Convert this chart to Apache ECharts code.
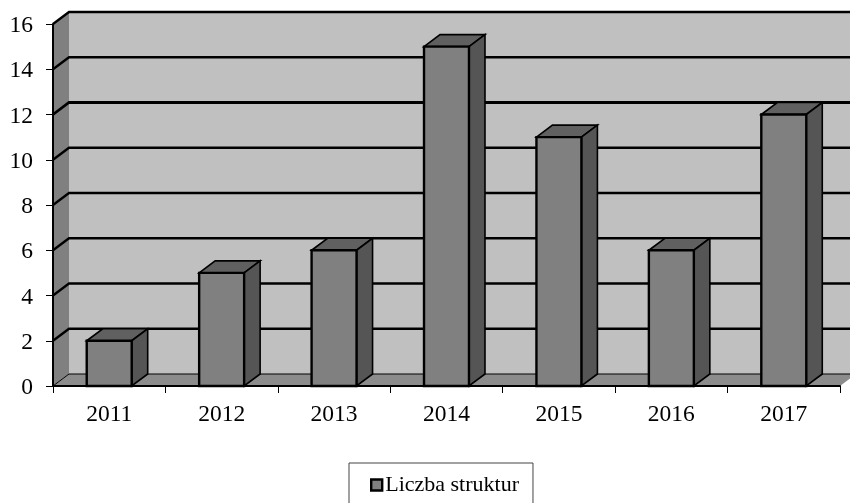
<!DOCTYPE html>
<html>
<head>
<meta charset="utf-8">
<style>html,body{margin:0;padding:0;background:#fff}#c{width:850px;height:503px}</style>
<script src="https://cdn.jsdelivr.net/npm/echarts@6/dist/echarts.min.js"></script>
</head>
<body>
<div id="c"></div>
<script>
const categories = ['2011','2012','2013','2014','2015','2016','2017'];
const structureCounts = [2,5,6,15,11,6,12];
const wallLevels = [0,2,4,6,8,10,12,14,16];
const seriesName = 'Liczba struktur';
const DX = 16, DY = -12;
const FONT = '"Liberation Serif","Times New Roman",serif';

const chart = echarts.init(document.getElementById('c'), null, {renderer:'canvas'});

function poly(points, fill, stroke, lw){
  return {type:'polygon', shape:{points},
    style:{fill, stroke: stroke||null, lineWidth: lw||0, lineJoin:'miter'}};
}
function pl(points, lw){
  return {type:'polyline', shape:{points},
    style:{fill:null, stroke:'#000', lineWidth:lw, lineJoin:'miter'}};
}
function renderWalls(params, api){
  const n = categories.length;
  const bl = api.coord([0,0]), tl = api.coord([0,16]);
  const left = bl[0] - api.size([1,0])[0]/2;
  const right = left + api.size([1,0])[0]*n;
  const y0 = bl[1], yT = tl[1];
  const children = [
    poly([[left+DX,y0+DY],[right+DX,y0+DY],[right+DX,yT+DY],[left+DX,yT+DY]],'#c0c0c0'),
    poly([[left,y0],[left+DX,y0+DY],[left+DX,yT+DY],[left,yT]],'#808080'),
    poly([[left,y0],[left+DX,y0+DY],[right+DX,y0+DY],[right,y0]],'#8c8c8c')
  ];
  wallLevels.forEach(v=>{
    const y = api.coord([0,v])[1];
    const lw = (v===0) ? 1 : (v===12 ? 2.8 : 2.3);
    children.push(pl([[left,y],[left+DX,y+DY],[right+DX,y+DY]], lw));
  });
  return {type:'group', children};
}
function renderBar(params, api){
  const i = api.value(0), v = api.value(1);
  const b = api.coord([i,0]), t = api.coord([i,v]);
  const w = api.size([1,0])[0]*0.4;
  const x0 = b[0]-w/2, x1 = b[0]+w/2;
  return {type:'group', children:[
    poly([[x0,t[1]],[x0+DX,t[1]+DY],[x1+DX,t[1]+DY],[x1,t[1]]],'#606060','#000',1.6),
    poly([[x1,t[1]],[x1+DX,t[1]+DY],[x1+DX,b[1]+DY],[x1,b[1]]],'#555555','#000',1.6),
    poly([[x0,t[1]],[x1,t[1]],[x1,b[1]],[x0,b[1]]],'#808080','#000',2.4)
  ]};
}
chart.setOption({
  animation:false,
  backgroundColor:'#fff',
  grid:{left:53,right:10,top:24,bottom:117,containLabel:false},
  legend:{
    data:[{name:seriesName,icon:'rect'}],
    left:349, top:463,
    itemWidth:11,itemHeight:11,itemGap:0,
    padding:[11,14,14,21],
    backgroundColor:'#fff',
    borderColor:'#444',borderWidth:1,borderRadius:0,
    selectedMode:false,
    textStyle:{fontFamily:FONT,fontSize:22,color:'#000',padding:[0,0,0,-2]},
    itemStyle:{color:'#808080',borderColor:'#000',borderWidth:2.4}
  },
  xAxis:{
    type:'category',data:categories,boundaryGap:true,z:5,
    axisLine:{lineStyle:{color:'#000',width:2}},
    axisTick:{show:true,alignWithLabel:false,length:7,lineStyle:{color:'#000',width:1}},
    axisLabel:{fontFamily:FONT,fontSize:23.5,color:'#000',margin:17},
    splitLine:{show:false}
  },
  yAxis:{
    type:'value',min:0,max:16,interval:2,z:5,
    axisLine:{show:true,lineStyle:{color:'#000',width:2}},
    axisTick:{show:true,length:7,lineStyle:{color:'#000',width:1}},
    axisLabel:{fontFamily:FONT,fontSize:23.5,color:'#000',margin:20,verticalAlign:'top',lineHeight:4},
    splitLine:{show:false}
  },
  series:[
    {type:'custom',name:'walls',silent:true,z:1,clip:false,renderItem:renderWalls,
     data:[[0,0]],encode:{x:0,y:1}},
    {type:'custom',name:seriesName,z:3,clip:false,renderItem:renderBar,
     itemStyle:{color:'#808080',borderColor:'#000',borderWidth:2.4},
     data:categories.map((c,i)=>[i,structureCounts[i]]),encode:{x:0,y:1}}
  ]
});
</script>
</body>
</html>
